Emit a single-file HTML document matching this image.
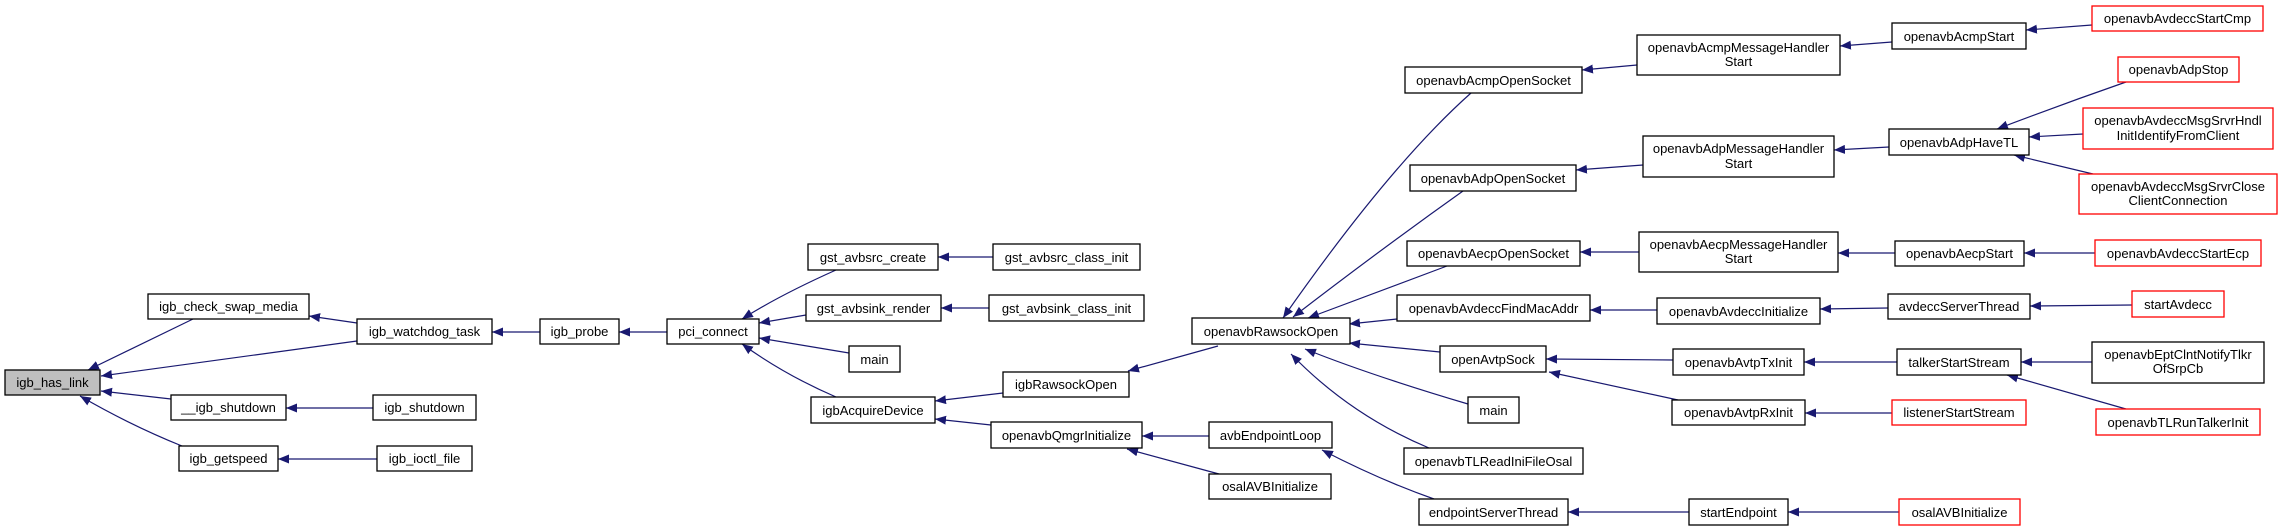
<!DOCTYPE html>
<html><head><meta charset="utf-8"><style>
html,body{margin:0;padding:0;background:#fff;}
svg{display:block;}
text{font-family:"Liberation Sans",Arial,sans-serif;font-size:13px;fill:#000;}
</style></head><body>
<svg width="2283" height="528" viewBox="0 0 2283 528" xmlns="http://www.w3.org/2000/svg">
<defs><marker id="a" markerUnits="userSpaceOnUse" markerWidth="12" markerHeight="10" refX="11" refY="4.5" orient="auto"><path d="M0,0 L11,4.5 L0,9 z" fill="#191970"/></marker></defs>
<g stroke="#191970" stroke-width="1.2" fill="none" marker-end="url(#a)">
<path d="M193,319 Q140,345 88,370"/>
<path d="M357,341 L101,376"/>
<path d="M357,323 L309,316"/>
<path d="M171,399 L101,391"/>
<path d="M182,446 Q130,425 80,396"/>
<path d="M373,408 L286,408"/>
<path d="M377,459 L278,459"/>
<path d="M540,332 L492,332"/>
<path d="M667,332 L619,332"/>
<path d="M836,270 Q780,295 742,319"/>
<path d="M806,315 L759,323"/>
<path d="M849,353 L759,338"/>
<path d="M836,397 Q785,375 742,344"/>
<path d="M993,257 L938,257"/>
<path d="M989,308 L941,308"/>
<path d="M1003,393 L935,401"/>
<path d="M991,425 L935,419"/>
<path d="M1209,436 L1142,436"/>
<path d="M1219,474 L1127,449"/>
<path d="M1218,346 L1128,371"/>
<path d="M1471,93 Q1390,165 1283,318"/>
<path d="M1463,191 Q1380,250 1293,317"/>
<path d="M1447,266 Q1370,295 1308,318"/>
<path d="M1397,319 L1349,324"/>
<path d="M1440,352 L1349,343"/>
<path d="M1468,404 Q1370,375 1305,349"/>
<path d="M1429,448 Q1350,415 1291,354"/>
<path d="M1434,499 Q1380,480 1322,450"/>
<path d="M1637,65 L1582,70"/>
<path d="M1643,165 L1576,170"/>
<path d="M1639,252 L1580,252"/>
<path d="M1657,310 L1590,310"/>
<path d="M1673,360 L1546,359"/>
<path d="M1678,400 L1549,372"/>
<path d="M1689,512 L1568,512"/>
<path d="M1892,42 L1840,46"/>
<path d="M1889,147 L1834,150"/>
<path d="M1895,253 L1838,253"/>
<path d="M1888,308 L1820,309"/>
<path d="M1897,362 L1804,362"/>
<path d="M1892,413 L1805,413"/>
<path d="M1899,512 L1788,512"/>
<path d="M2092,25 L2026,30"/>
<path d="M2126,82 Q2060,105 1997,129"/>
<path d="M2083,134 L2029,137"/>
<path d="M2093,174 L2014,155"/>
<path d="M2095,253 L2024,253"/>
<path d="M2132,305 L2030,306"/>
<path d="M2092,362 L2021,362"/>
<path d="M2126,409 L2007,375"/>
</g>
<g stroke-width="1.3" fill="#fff">
<rect x="5" y="370" width="95" height="25" fill="#bfbfbf" stroke="#000"/>
<rect x="148" y="294" width="161" height="25" stroke="#000"/>
<rect x="357" y="319" width="135" height="25" stroke="#000"/>
<rect x="540" y="319" width="79" height="25" stroke="#000"/>
<rect x="667" y="319" width="92" height="25" stroke="#000"/>
<rect x="171" y="395" width="115" height="25" stroke="#000"/>
<rect x="373" y="395" width="103" height="25" stroke="#000"/>
<rect x="179" y="446" width="99" height="25" stroke="#000"/>
<rect x="377" y="446" width="95" height="25" stroke="#000"/>
<rect x="808" y="244" width="130" height="26" stroke="#000"/>
<rect x="993" y="244" width="147" height="26" stroke="#000"/>
<rect x="806" y="295" width="135" height="26" stroke="#000"/>
<rect x="989" y="295" width="155" height="26" stroke="#000"/>
<rect x="849" y="346" width="51" height="26" stroke="#000"/>
<rect x="811" y="397" width="124" height="26" stroke="#000"/>
<rect x="1003" y="372" width="126" height="25" stroke="#000"/>
<rect x="991" y="422" width="151" height="26" stroke="#000"/>
<rect x="1209" y="422" width="123" height="26" stroke="#000"/>
<rect x="1209" y="474" width="122" height="25" stroke="#000"/>
<rect x="1192" y="318" width="158" height="26" stroke="#000"/>
<rect x="1405" y="67" width="177" height="26" stroke="#000"/>
<rect x="1410" y="165" width="166" height="26" stroke="#000"/>
<rect x="1407" y="241" width="173" height="25" stroke="#000"/>
<rect x="1397" y="295" width="193" height="26" stroke="#000"/>
<rect x="1440" y="346" width="106" height="26" stroke="#000"/>
<rect x="1468" y="397" width="51" height="26" stroke="#000"/>
<rect x="1404" y="448" width="179" height="26" stroke="#000"/>
<rect x="1419" y="499" width="149" height="26" stroke="#000"/>
<rect x="1637" y="35" width="203" height="40" stroke="#000"/>
<rect x="1643" y="136" width="191" height="41" stroke="#000"/>
<rect x="1639" y="232" width="199" height="40" stroke="#000"/>
<rect x="1657" y="298" width="163" height="26" stroke="#000"/>
<rect x="1673" y="349" width="131" height="26" stroke="#000"/>
<rect x="1672" y="400" width="133" height="25" stroke="#000"/>
<rect x="1689" y="499" width="99" height="26" stroke="#000"/>
<rect x="1892" y="23" width="134" height="26" stroke="#000"/>
<rect x="1889" y="129" width="140" height="26" stroke="#000"/>
<rect x="1895" y="241" width="129" height="25" stroke="#000"/>
<rect x="1888" y="294" width="142" height="25" stroke="#000"/>
<rect x="1897" y="349" width="124" height="26" stroke="#000"/>
<rect x="1892" y="400" width="134" height="25" stroke="#f00"/>
<rect x="1899" y="499" width="121" height="26" stroke="#f00"/>
<rect x="2092" y="6" width="171" height="25" stroke="#f00"/>
<rect x="2118" y="57" width="121" height="25" stroke="#f00"/>
<rect x="2083" y="108" width="190" height="41" stroke="#f00"/>
<rect x="2079" y="174" width="198" height="40" stroke="#f00"/>
<rect x="2095" y="240" width="166" height="26" stroke="#f00"/>
<rect x="2132" y="291" width="92" height="26" stroke="#f00"/>
<rect x="2092" y="342" width="172" height="41" stroke="#000"/>
<rect x="2096" y="409" width="164" height="26" stroke="#f00"/>
</g>
<g text-anchor="middle">
<text x="52.5" y="387">igb_has_link</text>
<text x="228.5" y="311">igb_check_swap_media</text>
<text x="424.5" y="336">igb_watchdog_task</text>
<text x="579.5" y="336">igb_probe</text>
<text x="713" y="336">pci_connect</text>
<text x="228.5" y="412">__igb_shutdown</text>
<text x="424.5" y="412">igb_shutdown</text>
<text x="228.5" y="463">igb_getspeed</text>
<text x="424.5" y="463">igb_ioctl_file</text>
<text x="873" y="262">gst_avbsrc_create</text>
<text x="1066.5" y="262">gst_avbsrc_class_init</text>
<text x="873.5" y="313">gst_avbsink_render</text>
<text x="1066.5" y="313">gst_avbsink_class_init</text>
<text x="874.5" y="364">main</text>
<text x="873" y="415">igbAcquireDevice</text>
<text x="1066" y="389">igbRawsockOpen</text>
<text x="1066.5" y="440">openavbQmgrInitialize</text>
<text x="1270.5" y="440">avbEndpointLoop</text>
<text x="1270" y="491">osalAVBInitialize</text>
<text x="1271" y="336">openavbRawsockOpen</text>
<text x="1493.5" y="85">openavbAcmpOpenSocket</text>
<text x="1493" y="183">openavbAdpOpenSocket</text>
<text x="1493.5" y="258">openavbAecpOpenSocket</text>
<text x="1493.5" y="313">openavbAvdeccFindMacAddr</text>
<text x="1493" y="364">openAvtpSock</text>
<text x="1493.5" y="415">main</text>
<text x="1493.5" y="466">openavbTLReadIniFileOsal</text>
<text x="1493.5" y="517">endpointServerThread</text>
<text x="1738.5" y="52">openavbAcmpMessageHandler</text>
<text x="1738.5" y="66">Start</text>
<text x="1738.5" y="153">openavbAdpMessageHandler</text>
<text x="1738.5" y="168">Start</text>
<text x="1738.5" y="249">openavbAecpMessageHandler</text>
<text x="1738.5" y="263">Start</text>
<text x="1738.5" y="316">openavbAvdeccInitialize</text>
<text x="1738.5" y="367">openavbAvtpTxInit</text>
<text x="1738.5" y="417">openavbAvtpRxInit</text>
<text x="1738.5" y="517">startEndpoint</text>
<text x="1959" y="41">openavbAcmpStart</text>
<text x="1959" y="147">openavbAdpHaveTL</text>
<text x="1959.5" y="258">openavbAecpStart</text>
<text x="1959" y="311">avdeccServerThread</text>
<text x="1959" y="367">talkerStartStream</text>
<text x="1959" y="417">listenerStartStream</text>
<text x="1959.5" y="517">osalAVBInitialize</text>
<text x="2177.5" y="23">openavbAvdeccStartCmp</text>
<text x="2178.5" y="74">openavbAdpStop</text>
<text x="2178" y="125">openavbAvdeccMsgSrvrHndl</text>
<text x="2178" y="140">InitIdentifyFromClient</text>
<text x="2178" y="191">openavbAvdeccMsgSrvrClose</text>
<text x="2178" y="205">ClientConnection</text>
<text x="2178" y="258">openavbAvdeccStartEcp</text>
<text x="2178" y="309">startAvdecc</text>
<text x="2178" y="359">openavbEptClntNotifyTlkr</text>
<text x="2178" y="373">OfSrpCb</text>
<text x="2178" y="427">openavbTLRunTalkerInit</text>
</g>
</svg>
</body></html>
